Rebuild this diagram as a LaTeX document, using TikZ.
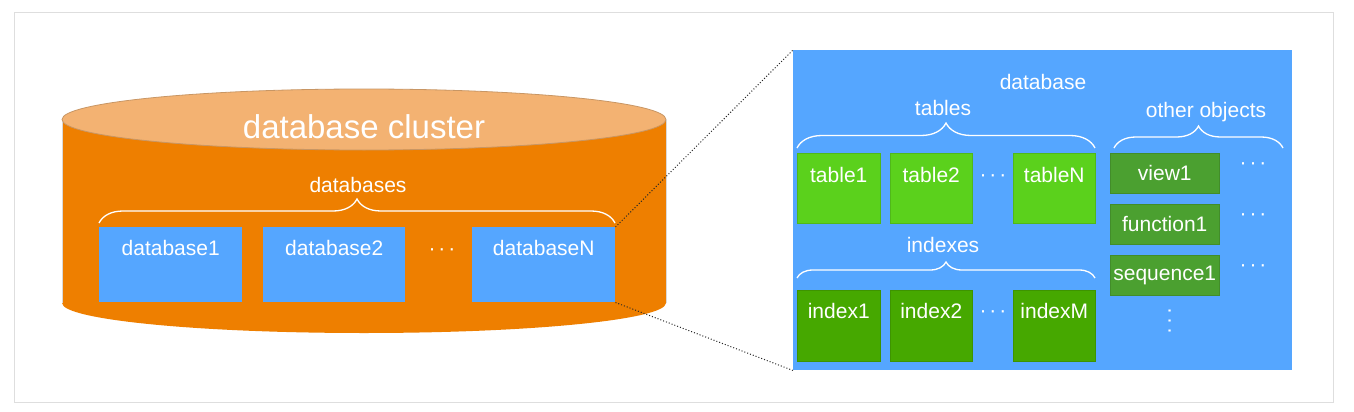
\documentclass[tikz,border=0pt]{standalone}
\usepackage{fontspec}
\setmainfont{Liberation Sans}
\usetikzlibrary{decorations.pathreplacing}
\definecolor{cylside}{RGB}{238,127,0}
\definecolor{cyltop}{RGB}{243,178,114}
\definecolor{cyledge}{RGB}{200,150,100}
\definecolor{dbblue}{RGB}{85,166,255}
\definecolor{tblgreen}{RGB}{91,209,28}
\definecolor{idxgreen}{RGB}{70,168,0}
\definecolor{objgreen}{RGB}{75,160,48}
\definecolor{framegray}{RGB}{222,222,222}
\begin{document}
\begin{tikzpicture}[x=1pt,y=-1pt,
  box/.style={anchor=north west, inner sep=0pt, fill=#1, draw=#1!88!black, line width=0.5pt},
  txt/.style={text=white, font=\fontsize{21}{21}\selectfont, inner sep=0pt},
  dots/.style={text=white, font=\fontsize{21}{21}\selectfont, inner sep=0pt},
  big/.style={text=white, font=\fontsize{33}{33}\selectfont, inner sep=0pt},
  brc/.style={decorate, decoration={brace, amplitude=#1}, draw=white, line width=1.3pt},
  zoomline/.style={dotted, line width=1pt, black!85}
]
\useasboundingbox (0,0) rectangle (1354,412);
\fill[white] (0,0) rectangle (1354,412);
\draw[framegray, line width=1pt] (14,13) rectangle (1333,402);

% cylinder
\fill[cylside] (62,120) rectangle (666,303);
\fill[cylside] (364,303) ellipse [x radius=302, y radius=30];
\draw[black!15, line width=0.6pt] (62,120) -- (62,303);
\draw[black!15, line width=0.6pt] (666,120) -- (666,303);
\filldraw[fill=cyltop, draw=cyledge, line width=0.8pt] (364,119.5) ellipse [x radius=302, y radius=30.5];
\node[big] (cluster) at (364,127) {database cluster};

% databases
\node[txt] (dbs) at (358,185) {databases};
\draw[brc=24] (99,223) -- (615,223);
\node[box=dbblue, draw=none, minimum width=143, minimum height=75,
  label={[txt,anchor=center,yshift=-21]north:database1}] (db1) at (99,227) {};
\node[box=dbblue, draw=none, minimum width=142, minimum height=75,
  label={[txt,anchor=center,yshift=-21]north:database2}] (db2) at (263,227) {};
\node[dots] (dbdots) at (442,252) {·\kern3pt·\kern3pt·};
\node[box=dbblue, draw=none, minimum width=143, minimum height=75,
  label={[txt,anchor=center,yshift=-21]north:databaseN}] (dbN) at (472,227) {};

% detail box
\node[box=dbblue, draw=none, minimum width=499, minimum height=320] (detail) at (793,50) {};
\draw[zoomline] (dbN.north east) -- (detail.north west);
\draw[zoomline] (dbN.south east) -- (detail.south west);

\node[txt] (dbname) at (1043,82) {database};
\node[txt] (tables) at (943,108) {tables};
\draw[brc=25] (797,148) -- (1095,148);
\node[box=tblgreen, minimum width=83, minimum height=70,
  label={[txt,anchor=center,yshift=-22]north:table1}] (t1) at (797,153) {};
\node[box=tblgreen, minimum width=82, minimum height=70,
  label={[txt,anchor=center,yshift=-22]north:table2}] (t2) at (890,153) {};
\node[dots] (tdots) at (993,178) {·\kern3pt·\kern3pt·};
\node[box=tblgreen, minimum width=82, minimum height=70,
  label={[txt,anchor=center,yshift=-22]north:tableN}] (tN) at (1013,153) {};

\node[txt] (indexes) at (943,245) {indexes};
\draw[brc=16] (797,278) -- (1095,278);
\node[box=idxgreen, minimum width=83, minimum height=71,
  label={[txt,anchor=center,yshift=-21]north:index1}] (i1) at (797,290) {};
\node[box=idxgreen, minimum width=82, minimum height=71,
  label={[txt,anchor=center,yshift=-21]north:index2}] (i2) at (890,290) {};
\node[dots] (idots) at (993,314) {·\kern3pt·\kern3pt·};
\node[box=idxgreen, minimum width=82, minimum height=71,
  label={[txt,anchor=center,yshift=-21]north:indexM}] (iM) at (1013,290) {};

\node[txt] (others) at (1206,112) {other objects};
\draw[brc=22] (1114,148) -- (1283,148);
\node[box=objgreen, minimum width=109, minimum height=40] (v1) at (1110,153) {};
\node[txt] at (v1.center) {view1};
\node[box=objgreen, minimum width=109, minimum height=40] (f1) at (1110,204) {};
\node[txt] at (f1.center) {function1};
\node[box=objgreen, minimum width=109, minimum height=40] (s1) at (1110,255) {};
\node[txt] at (s1.center) {sequence1};
\node[dots] (vdots1) at (1253,166) {·\kern3pt·\kern3pt·};
\node[dots] (vdots2) at (1253,217) {·\kern3pt·\kern3pt·};
\node[dots] (vdots3) at (1253,268) {·\kern3pt·\kern3pt·};
\node[dots, rotate=90] (vvdots) at (1172,321) {·\kern3pt·\kern3pt·};
\end{tikzpicture}
\end{document}
